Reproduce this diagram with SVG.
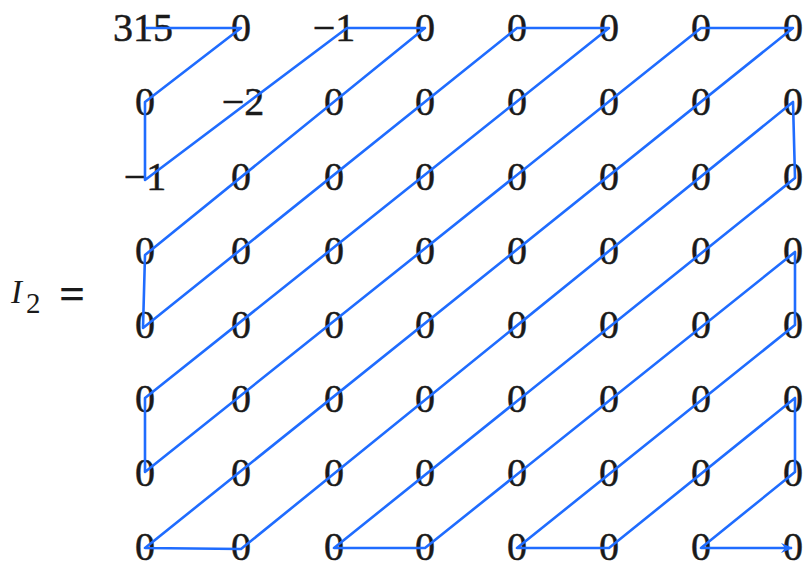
<svg xmlns="http://www.w3.org/2000/svg" width="805" height="564" viewBox="0 0 805 564">
<style>
.c{font-family:"Liberation Serif","Times New Roman",serif;font-size:40px;fill:#1a1a1a;stroke:#1a1a1a;stroke-width:0.5;text-anchor:middle}
.lbl{font-family:"Liberation Serif","Times New Roman",serif;fill:#1a1a1a}
.zz{fill:none;stroke:#1f6cff;stroke-width:2.6;stroke-linejoin:round}
</style>
<defs>
<marker id="ah" viewBox="0 0 12 10" refX="11" refY="5" markerWidth="12" markerHeight="10" markerUnits="userSpaceOnUse" orient="auto">
<path d="M0,0 L12,5 L0,10 L4,5 Z" fill="#1f6cff"/>
</marker>
</defs>
<rect width="805" height="564" fill="#fff"/>
<g id="label">
<text class="lbl" x="11" y="303" font-size="33" font-style="italic">I</text>
<text class="lbl" x="26" y="313" font-size="29">2</text>
<text class="lbl" x="59" y="309" font-size="46" font-weight="bold">=</text>
</g>
<g id="cells">
<g id="r0">
<text class="c" x="143" y="41">315</text>
<text class="c" x="241" y="41">0</text>
<text class="c" x="334" y="41">−1</text>
<text class="c" x="425" y="41">0</text>
<text class="c" x="517" y="41">0</text>
<text class="c" x="609" y="41">0</text>
<text class="c" x="701" y="41">0</text>
<text class="c" x="793" y="41">0</text>
</g>
<g id="r1">
<text class="c" x="145" y="115">0</text>
<text class="c" x="243" y="115">−2</text>
<text class="c" x="334" y="115">0</text>
<text class="c" x="425" y="115">0</text>
<text class="c" x="517" y="115">0</text>
<text class="c" x="609" y="115">0</text>
<text class="c" x="701" y="115">0</text>
<text class="c" x="793" y="115">0</text>
</g>
<g id="r2">
<text class="c" x="145" y="190">−1</text>
<text class="c" x="241" y="190">0</text>
<text class="c" x="334" y="190">0</text>
<text class="c" x="425" y="190">0</text>
<text class="c" x="517" y="190">0</text>
<text class="c" x="609" y="190">0</text>
<text class="c" x="701" y="190">0</text>
<text class="c" x="793" y="190">0</text>
</g>
<g id="r3">
<text class="c" x="145" y="264">0</text>
<text class="c" x="241" y="264">0</text>
<text class="c" x="334" y="264">0</text>
<text class="c" x="425" y="264">0</text>
<text class="c" x="517" y="264">0</text>
<text class="c" x="609" y="264">0</text>
<text class="c" x="701" y="264">0</text>
<text class="c" x="793" y="264">0</text>
</g>
<g id="r4">
<text class="c" x="145" y="338">0</text>
<text class="c" x="241" y="338">0</text>
<text class="c" x="334" y="338">0</text>
<text class="c" x="425" y="338">0</text>
<text class="c" x="517" y="338">0</text>
<text class="c" x="609" y="338">0</text>
<text class="c" x="701" y="338">0</text>
<text class="c" x="793" y="338">0</text>
</g>
<g id="r5">
<text class="c" x="145" y="412">0</text>
<text class="c" x="241" y="412">0</text>
<text class="c" x="334" y="412">0</text>
<text class="c" x="425" y="412">0</text>
<text class="c" x="517" y="412">0</text>
<text class="c" x="609" y="412">0</text>
<text class="c" x="701" y="412">0</text>
<text class="c" x="793" y="412">0</text>
</g>
<g id="r6">
<text class="c" x="145" y="486">0</text>
<text class="c" x="241" y="486">0</text>
<text class="c" x="334" y="486">0</text>
<text class="c" x="425" y="486">0</text>
<text class="c" x="517" y="486">0</text>
<text class="c" x="609" y="486">0</text>
<text class="c" x="701" y="486">0</text>
<text class="c" x="793" y="486">0</text>
</g>
<g id="r7">
<text class="c" x="145" y="560">0</text>
<text class="c" x="241" y="560">0</text>
<text class="c" x="334" y="560">0</text>
<text class="c" x="425" y="560">0</text>
<text class="c" x="517" y="560">0</text>
<text class="c" x="609" y="560">0</text>
<text class="c" x="701" y="560">0</text>
<text class="c" x="793" y="560">0</text>
</g>
</g>
<g id="connectors">
<polyline class="zz" marker-end="url(#ah)" points="145,28 241,28 145,102 145,180 347,28 425,28 145,255 143,328 517,28 609,28 145,398 145,472 701,28 793,28 145,548 241,549 793,102 795,178 334,548 425,548 795,252 795,325 517,548 609,548 795,398 795,472 701,548 792,548"/>
</g>
</svg>
